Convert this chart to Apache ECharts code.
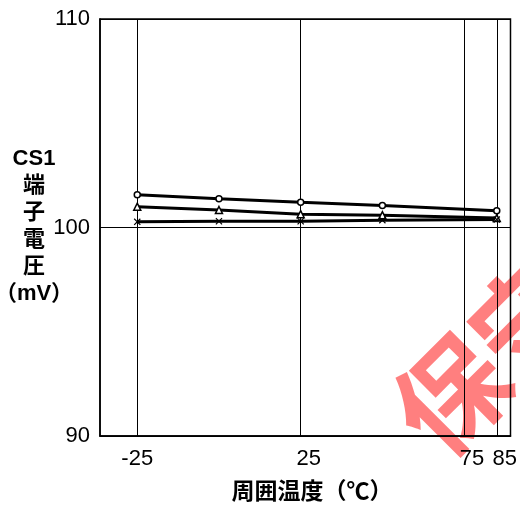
<!DOCTYPE html>
<html>
<head>
<meta charset="utf-8">
<script src="https://cdn.jsdelivr.net/npm/echarts@6/dist/echarts.min.js"></script>
<style>
  html, body { margin: 0; padding: 0; background: #fff; }
  #chart { width: 520px; height: 510px; }
</style>
</head>
<body>
<div id="chart"></div>
<script>
// Ambient temperature (°C) at which each reading was taken
const temps = [-25, 0, 25, 50, 85];

// CS1 terminal voltage (mV), three samples
const seriesCircle   = [101.57, 101.38, 101.21, 101.05, 100.80];
const seriesTriangle = [101.00, 100.84, 100.64, 100.59, 100.45];
const seriesCross    = [100.27, 100.30, 100.30, 100.35, 100.38];

// Axis ticks
const xTicks = [-25, 25, 75, 85];
const yTicks = [90, 100, 110];

const FONT = '"Liberation Sans", "Noto Sans CJK JP", sans-serif';
const CROSS = 'path://M0,1.2L1.2,0L5,3.8L8.8,0L10,1.2L6.2,5L10,8.8L8.8,10L5,6.2L1.2,10L0,8.8L3.8,5Z';

function pairs(ys) { return temps.map((t, i) => [t, ys[i]]); }

function lineSeries(name, ys, symbol, size, extra) {
  return Object.assign({
    name: name,
    type: 'line',
    data: pairs(ys),
    symbol: symbol,
    symbolSize: size,
    showAllSymbol: true,
    lineStyle: { color: '#000', width: 3 },
    itemStyle: { color: '#fff', borderColor: '#000', borderWidth: 1.5 },
    z: 5,
    animation: false
  }, extra || {});
}

const chart = echarts.init(document.getElementById('chart'), null, { renderer: 'canvas' });

chart.setOption({
  animation: false,
  backgroundColor: '#fff',
  grid: {
    left: 100, top: 19, right: 8, bottom: 74,
    show: true, borderColor: '#000', borderWidth: 1.5
  },
  xAxis: {
    type: 'value',
    min: -36.4,
    max: 89.2,
    axisLine: { show: true, onZero: false, lineStyle: { color: '#000', width: 1.5 } },
    axisTick: { show: false },
    splitLine: { show: false },
    axisLabel: {
      customValues: xTicks,
      margin: 12,
      color: '#000',
      fontFamily: FONT,
      fontSize: 22,
      formatter: v => v === -25 ? '{a|' + v + '}' : '{b|' + v + '}',
      rich: {
        a: { fontFamily: FONT, fontSize: 22, color: '#000' },
        b: { fontFamily: FONT, fontSize: 22, color: '#000', padding: [0, 0, 0, 16] }
      }
    }
  },
  yAxis: {
    type: 'value',
    min: yTicks[0],
    max: yTicks[yTicks.length - 1],
    interval: 10,
    axisLine: { show: true, onZero: false, lineStyle: { color: '#000', width: 1.5 } },
    axisTick: { show: false },
    splitLine: { show: true, lineStyle: { color: '#000', width: 1 } },
    axisLabel: { margin: 10, color: '#000', fontFamily: FONT, fontSize: 22 }
  },
  series: [
    lineSeries('circle', seriesCircle, 'circle', 6, {
      markLine: {
        silent: true,
        symbol: 'none',
        label: { show: false },
        lineStyle: { color: '#000', width: 1, type: 'solid' },
        data: xTicks.map(t => ({ xAxis: t })),
        z: 1,
        animation: false
      }
    }),
    lineSeries('triangle', seriesTriangle, 'triangle', 7),
    lineSeries('cross', seriesCross, CROSS, 7, {
      itemStyle: { color: '#000', borderWidth: 0 }
    })
  ],
  graphic: {
    elements: [
      {
        type: 'text',
        x: 34, y: 145,
        z: 10,
        style: {
          text: 'CS1\n端\n子\n電\n圧\n（mV）',
          fill: '#000',
          font: 'bold 22px ' + FONT,
          lineHeight: 27,
          align: 'center',
          verticalAlign: 'top'
        }
      },
      {
        type: 'text',
        x: 312, y: 493,
        z: 10,
        style: {
          text: '周囲温度（℃）',
          fill: '#000',
          font: 'bold 23px ' + FONT,
          align: 'center',
          verticalAlign: 'middle'
        }
      },
      {
        type: 'text',
        x: 412, y: 434,
        rotation: Math.PI / 4,
        z: -10,
        style: {
          text: '保守',
          fill: 'rgba(255, 0, 0, 0.5)',
          font: 'bold 110px "Noto Sans CJK JP", sans-serif',
          align: 'left',
          verticalAlign: 'middle'
        }
      }
    ]
  }
});
</script>
</body>
</html>
